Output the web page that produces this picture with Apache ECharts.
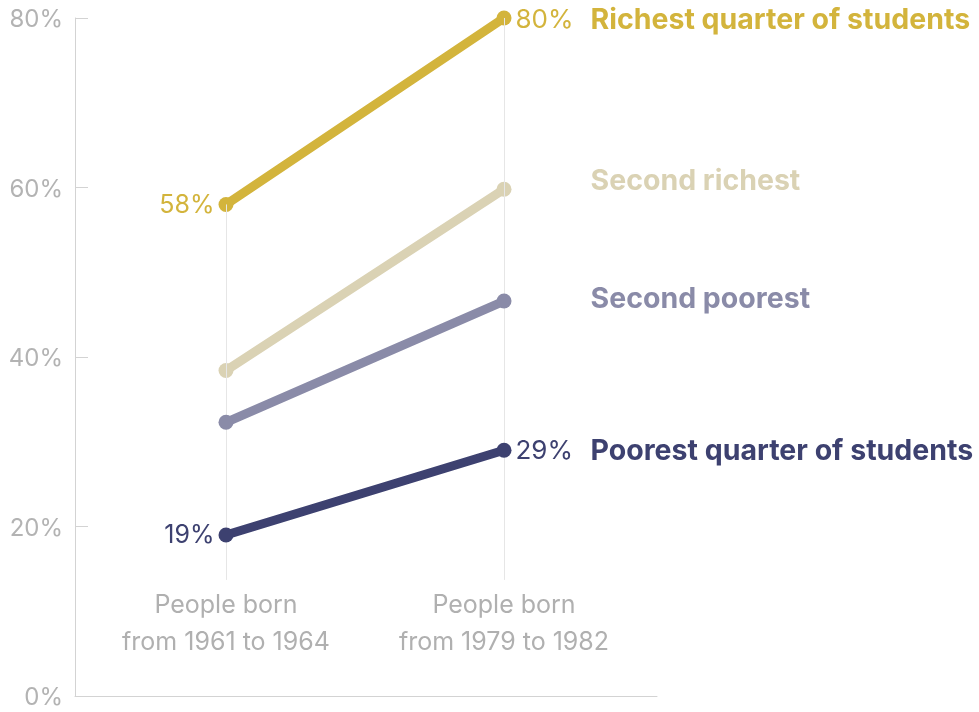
<!DOCTYPE html>
<html>
<head>
<meta charset="utf-8">
<script src="https://cdn.jsdelivr.net/npm/echarts@6/dist/echarts.min.js"></script>
<style>
  html, body { margin: 0; padding: 0; background: #ffffff; }
  #chart { width: 979px; height: 712px; }
</style>
</head>
<body>
<div id="chart"></div>
<script>
// Share of students (by family income quarter) — two birth cohorts
const categories = ['People born\nfrom 1961 to 1964', 'People born\nfrom 1979 to 1982'];
const groupNames = ['Richest quarter of students', 'Second richest', 'Second poorest', 'Poorest quarter of students'];
const richest = [58, 80];
const secondRichest = [38.4, 59.8];
const secondPoorest = [32.3, 46.6];
const poorest = [19, 29];
const yTicks = [0, 20, 40, 60, 80];
const labelledGroups = [true, false, false, true];

const groupValues = [richest, secondRichest, secondPoorest, poorest];

// Presentation per group: colour and vertical nudge of the end label
const groupStyles = [
  { color: '#d3b43c', nameOffset: 2 },
  { color: '#dad2b4', nameOffset: -8 },
  { color: '#8a8ba8', nameOffset: -2 },
  { color: '#3d4170', nameOffset: 1 }
];

const FONT = 'Inter, "Open Sans", sans-serif';
const GUIDE_BOTTOM = 13.7;

const chart = echarts.init(document.getElementById('chart'), null, { renderer: 'canvas' });

const groupSeries = groupValues.map((vals, i) => {
  const st = groupStyles[i];
  const showVal = labelledGroups[i];
  return {
    name: groupNames[i],
    type: 'line',
    z: 3 + i,
    symbol: 'circle',
    symbolSize: 15,
    lineStyle: { color: st.color, width: 9, cap: 'round' },
    itemStyle: { color: st.color },
    emphasis: { disabled: true },
    animation: false,
    data: vals.map((v, k) => {
      const item = { value: [k, v] };
      if (k === 0) {
        item.label = {
          show: showVal,
          position: 'left',
          distance: 4,
          formatter: v + '%',
          color: st.color,
          fontFamily: FONT,
          fontSize: 25,
          offset: [0, 1]
        };
      } else {
        item.label = {
          show: true,
          position: 'right',
          distance: 4,
          offset: [0, st.nameOffset],
          formatter: '{v|' + (showVal ? v + '%' : ' ') + '}{n|' + groupNames[i] + '}',
          rich: {
            v: { width: 75, fontFamily: FONT, fontSize: 26, color: st.color, verticalAlign: 'middle' },
            n: { fontFamily: FONT, fontSize: 28.5, fontWeight: 'bold', color: st.color, verticalAlign: 'middle' }
          }
        };
      }
      return item;
    })
  };
});

// Faint vertical guides under each cohort, up to its highest point
const guideSeries = {
  type: 'line',
  z: 1,
  data: [],
  silent: true,
  animation: false,
  markLine: {
    silent: true,
    symbol: 'none',
    animation: false,
    label: { show: false },
    lineStyle: { color: '#e6e6e6', width: 1, type: 'solid' },
    data: categories.map((c, k) => [
      { coord: [k, GUIDE_BOTTOM] },
      { coord: [k, Math.max(...groupValues.map(g => g[k]))] }
    ])
  }
};

chart.setOption({
  backgroundColor: '#ffffff',
  animation: false,
  grid: { left: 75, right: 322, top: 18, bottom: 16, containLabel: false, outerBoundsMode: 'none' },
  xAxis: {
    type: 'value',
    min: -0.5432,
    max: 1.5503,
    axisLine: { show: true, onZero: false, lineStyle: { color: '#d3d3d3', width: 1 } },
    axisTick: { show: false },
    splitLine: { show: false },
    axisLabel: {
      show: true,
      inside: true,
      margin: 35,
      customValues: categories.map((c, k) => k),
      formatter: (val) => categories[Math.round(val)] || '',
      color: '#b0b0b0',
      fontFamily: FONT,
      fontSize: 25,
      lineHeight: 37,
      align: 'center'
    }
  },
  yAxis: {
    type: 'value',
    min: yTicks[0],
    max: yTicks[yTicks.length - 1],
    interval: yTicks[1] - yTicks[0],
    axisLine: { show: true, onZero: false, lineStyle: { color: '#d3d3d3', width: 1 } },
    axisTick: { show: true, inside: true, length: 13, lineStyle: { color: '#d3d3d3', width: 1 } },
    splitLine: { show: false },
    axisLabel: {
      formatter: '{t|{value}%}',
      margin: 12,
      rich: {
        t: { padding: [4, 0, 0, 0], color: '#b3b3b3', fontFamily: FONT, fontSize: 24 }
      }
    }
  },
  series: [guideSeries].concat(groupSeries)
});
</script>
</body>
</html>
